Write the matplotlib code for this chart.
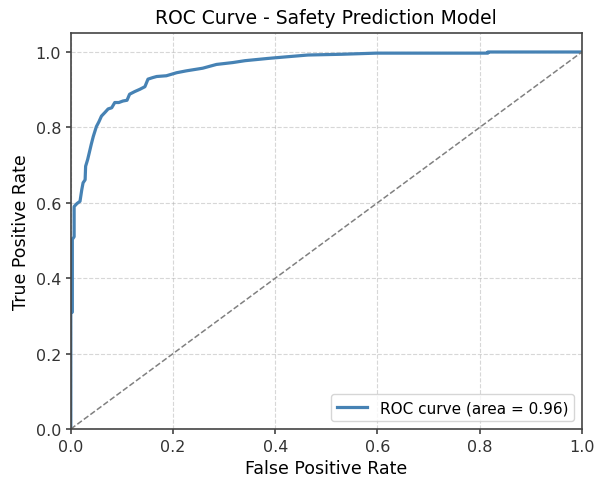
# ROC curve for the safety prediction model

import numpy as np
import matplotlib
matplotlib.use("Agg")
import matplotlib.pyplot as plt

# curve points
fpr = [0.0, 0.0, 0.003, 0.003, 0.0065, 0.0065, 0.012, 0.018, 0.0215, 0.024,
       0.028, 0.029, 0.033, 0.036, 0.040, 0.044, 0.050, 0.055, 0.060, 0.067,
       0.073, 0.080, 0.086, 0.094, 0.102, 0.110, 0.115, 0.125, 0.135, 0.145,
       0.151, 0.160, 0.168, 0.187, 0.207, 0.226, 0.258, 0.285, 0.317, 0.341,
       0.386, 0.420, 0.464, 0.530, 0.598, 0.816, 0.816, 1.0]
tpr = [0.0, 0.31, 0.31, 0.503, 0.51, 0.59, 0.598, 0.604, 0.635, 0.653,
       0.661, 0.697, 0.715, 0.732, 0.755, 0.776, 0.802, 0.815, 0.830, 0.840,
       0.849, 0.852, 0.866, 0.866, 0.870, 0.872, 0.888, 0.895, 0.901, 0.908,
       0.928, 0.932, 0.935, 0.937, 0.945, 0.950, 0.957, 0.967, 0.972, 0.977,
       0.983, 0.987, 0.992, 0.994, 0.997, 0.997, 1.0, 1.0]
roc_auc = 0.96

fig = plt.figure(figsize=(5.95, 4.81), dpi=100)
ax = fig.add_subplot(111)
fig.subplots_adjust(left=0.119, right=0.978, bottom=0.106, top=0.929)

ax.plot(fpr, tpr, color='steelblue', lw=2.3,
        label='ROC curve (area = %0.2f)' % roc_auc)
ax.plot([0, 1], [0, 1], color='gray', lw=1.1, linestyle='--')

ax.set_xlim([0.0, 1.0])
ax.set_ylim([0.0, 1.05])
ax.set_xlabel('False Positive Rate', fontsize=12.5)
ax.set_ylabel('True Positive Rate', fontsize=12.5)
ax.set_title('ROC Curve - Safety Prediction Model', fontsize=13.5, pad=7)
ax.tick_params(labelsize=11.5, colors='#333333', width=1.1)
for s in ax.spines.values():
    s.set_color('#444444')
    s.set_linewidth(1.2)
ax.grid(True, linestyle='--', alpha=0.5)
ax.legend(loc='lower right', fontsize=11)

plt.savefig('out.png', dpi=100)
